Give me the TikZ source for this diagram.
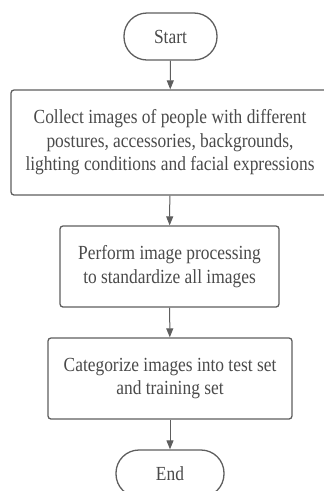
\documentclass[tikz,border=0pt]{standalone}
\usepackage{fontspec}
\setmainfont{Liberation Serif}[FakeStretch=0.87]
\usetikzlibrary{arrows.meta}
\definecolor{edge}{HTML}{5E5E5E}
\definecolor{ink}{HTML}{4A4A4A}
\tikzset{
  terminal/.style={draw=edge, line width=1.3pt, rounded corners=23pt,
    minimum width=93pt, minimum height=47pt, text=ink, font=\fontsize{20}{23.5}\selectfont},
  process/.style={draw=edge, line width=1.3pt, rounded corners=3pt,
    text=ink, align=center, font=\fontsize{20}{23.5}\selectfont},
  flow/.style={draw=edge, line width=1pt, -{Triangle[length=9pt,width=7pt]}}
}
\begin{document}
\begin{tikzpicture}[x=1pt,y=-1pt]
\useasboundingbox (0,0) rectangle (324,491);
\clip (0,0) rectangle (324,491);
\node[terminal] (start) at (170.5,36.5) {Start};
\node[process, minimum width=318pt, minimum height=105pt] (collect) at (170,142.5)
  {Collect images of people with different\\postures, accessories, backgrounds,\\lighting conditions and facial expressions};
\node[process, minimum width=219pt, minimum height=81pt] (proc) at (169.5,266.5)
  {Perform image processing\\to standardize all images};
\node[process, minimum width=244pt, minimum height=81pt] (cat) at (170,378.5)
  {Categorize images into test set\\and training set};
\node[terminal, minimum width=108pt] (end) at (170,473.5) {End};
\draw[flow] (start) -- (collect);
\draw[flow] (collect) -- (proc);
\draw[flow] (proc) -- (cat);
\draw[flow] (cat) -- (end);
\end{tikzpicture}
\end{document}
